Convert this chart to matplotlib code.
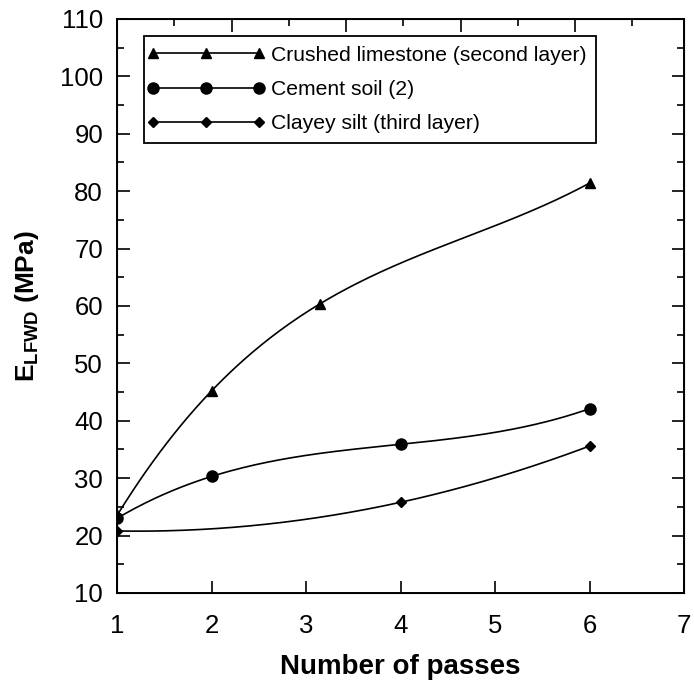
import numpy as np
import matplotlib.pyplot as plt
from matplotlib.ticker import MultipleLocator, NullLocator
from matplotlib.legend_handler import HandlerLine2D

plt.rcParams['font.family'] = ['Liberation Sans', 'DejaVu Sans']
plt.rcParams['mathtext.fontset'] = 'custom'
plt.rcParams['mathtext.rm'] = 'Liberation Sans'
plt.rcParams['mathtext.bf'] = 'Liberation Sans:bold'

# data
x_lime = [1, 2, 3.15, 6]
y_lime = [23.5, 45.2, 60.4, 81.4]
x_cem = [1, 2, 4, 6]
y_cem = [23.0, 30.3, 35.9, 42.1]
x_silt = [1, 4, 6]
y_silt = [20.8, 25.8, 35.6]

fig = plt.figure(figsize=(6.94, 6.83), dpi=100)
ax = fig.add_axes([0.1686, 0.1318, 0.817, 0.8404])

def smooth(xs, ys):
    c = np.polyfit(xs, ys, len(xs) - 1)
    xx = np.linspace(min(xs), max(xs), 200)
    return xx, np.polyval(c, xx)

series = [
    (x_lime, y_lime, '^', 7.5, 'Crushed limestone (second layer)'),
    (x_cem, y_cem, 'o', 8, 'Cement soil (2)'),
    (x_silt, y_silt, 'D', 5.5, 'Clayey silt (third layer)'),
]
handles = []
for xs, ys, m, ms, lab in series:
    xx, yy = smooth(xs, ys)
    ax.plot(xx, yy, color='black', lw=1.2)
    ax.plot(xs, ys, m, color='black', ms=ms)
    h, = ax.plot([], [], '-', marker=m, color='black', ms=ms, lw=1.2, label=lab)
    handles.append(h)

hmap = {h: HandlerLine2D(marker_pad=0.0, numpoints=3) for h in handles}
leg = ax.legend(handles=handles, handler_map=hmap, loc='upper left',
                bbox_to_anchor=(0.0476, 0.970), fontsize=15.2, handlelength=5.0,
                fancybox=False, edgecolor='black', framealpha=1, borderaxespad=0.0,
                borderpad=0.45, labelspacing=0.72, handletextpad=0.58)
leg.get_frame().set_linewidth(1.3)

ax.set_xlim(1, 7)
ax.set_ylim(10, 110)
ax.xaxis.set_major_locator(MultipleLocator(1))
ax.xaxis.set_minor_locator(NullLocator())
ax.yaxis.set_major_locator(MultipleLocator(10))
ax.yaxis.set_minor_locator(MultipleLocator(5))
ax.tick_params(which='both', direction='in', right=True, labelsize=18.5, width=1.2)
ax.tick_params(which='major', length=9)
ax.tick_params(which='minor', length=5)
ax.tick_params(axis='x', pad=15)
ax.tick_params(axis='y', pad=10)
for s in ax.spines.values():
    s.set_linewidth(1.4)

# top axis ticks (spacing differs from the bottom axis in the original)
ax2 = ax.twiny()
ax2.set_xlim(0, 4.95)
ax2.xaxis.set_major_locator(MultipleLocator(1))
ax2.xaxis.set_minor_locator(MultipleLocator(0.5))
ax2.tick_params(which='both', direction='in', labeltop=False, width=1.2)
ax2.tick_params(which='major', length=9)
ax2.tick_params(which='minor', length=5)

ax.set_xlabel('Number of passes', fontsize=20, fontweight='bold', labelpad=12)
ax.set_ylabel(r'E$_{\mathbf{LFWD}}$ (MPa)', fontsize=19, fontweight='bold', labelpad=14)

fig.savefig('out.png', dpi=100)
